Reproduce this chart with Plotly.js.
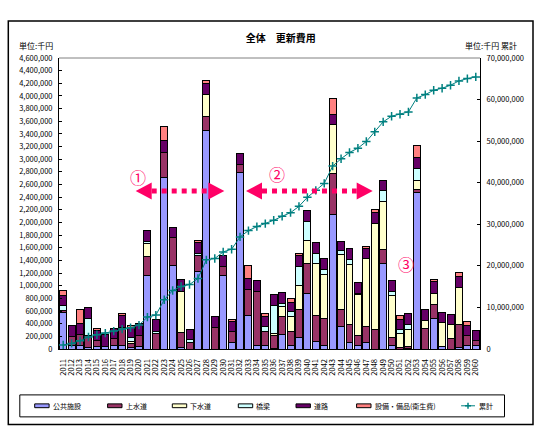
<!DOCTYPE html>
<html><head><meta charset="utf-8">
<script src="https://cdn.plot.ly/plotly-3.0.1.min.js"></script>
<style>html,body{margin:0;padding:0;background:#fff}#chart{width:543px;height:435px}</style>
</head><body><div id="chart"></div>
<script>
// ---- data (単位: 千円) ----
const years = ['2011','2012','2013','2014','2015','2016','2017','2018','2019','2020',
  '2021','2022','2023','2024','2025','2026','2027','2028','2029','2030',
  '2031','2032','2033','2034','2035','2036','2037','2038','2039','2040',
  '2041','2042','2043','2044','2045','2046','2047','2048','2049','2050',
  '2051','2052','2053','2054','2055','2056','2057','2058','2059','2060'];

const kokyoShisetsu = [584000,58000,63000,26000,32000,42000,58000,63000,21000,42000,
  1161000,0,2710000,1318000,16000,0,1229000,3450000,0,1166000,
  95000,2788000,531000,58000,53000,11000,237000,53000,189000,883000,
  121000,53000,2130000,358000,105000,53000,95000,0,1357000,58000,
  0,10000,2471000,0,484000,42000,0,16000,53000,53000];
const josuido = [32000,142000,174000,184000,105000,0,105000,284000,63000,174000,
  299000,252000,404000,441000,252000,105000,242000,231000,347000,142000,
  184000,126000,405000,857000,226000,210000,279000,216000,442000,473000,
  405000,437000,647000,273000,289000,168000,263000,305000,221000,116000,
  21000,32000,58000,326000,226000,0,163000,368000,158000,79000];
const gesuido = [0,0,0,0,0,0,0,0,32000,0,
  200000,0,0,0,641000,0,0,336000,0,0,
  0,0,0,0,0,32000,158000,237000,373000,357000,
  831000,694000,778000,857000,947000,636000,1078000,1672000,752000,678000,
  221000,262000,142000,126000,174000,384000,221000,589000,0,0];
const kyoryo = [74000,0,0,279000,0,0,0,0,63000,0,
  37000,26000,0,0,0,52000,42000,0,0,0,
  0,0,0,0,79000,431000,53000,79000,300000,300000,
  152000,79000,0,63000,68000,26000,0,0,174000,63000,
  74000,79000,184000,0,0,0,0,0,0,0];
const doro = [158000,179000,174000,174000,158000,184000,158000,179000,168000,184000,
  179000,184000,179000,163000,184000,158000,173000,173000,173000,168000,
  163000,173000,184000,174000,160000,184000,174000,158000,179000,174000,
  168000,174000,158000,147000,179000,168000,152000,179000,163000,174000,
  158000,179000,168000,179000,179000,158000,168000,179000,158000,158000];
const setsubiBihin = [84000,0,210000,0,37000,0,0,42000,21000,0,
  0,0,221000,0,0,0,32000,47000,0,0,
  32000,0,205000,0,47000,0,0,53000,32000,0,
  0,0,247000,0,0,0,32000,53000,0,0,
  63000,0,195000,0,32000,0,0,53000,63000,0];
const ruikei = [950000,1350000,1990000,2870000,3430000,3830000,4310000,4790000,5110000,5750000,
  7670000,8150000,11840000,14070000,15030000,15510000,16960000,21440000,21760000,23360000,
  24000000,26960000,28480000,29440000,30160000,30960000,31920000,32800000,34320000,36480000,
  38160000,39840000,44000000,45760000,47280000,48320000,49920000,52240000,54640000,56000000,
  56480000,57040000,60400000,61200000,62250000,62730000,63450000,64490000,65050000,65450000];

const seriesNames = ['公共施設','上水道','下水道','橋梁','道路','設備・備品(衛生費)'];
const seriesValues = [kokyoShisetsu, josuido, gesuido, kyoryo, doro, setsubiBihin];
const seriesColors = ['#9999FF','#993366','#FFFFCC','#CCFFFF','#660066','#FF8080'];
const lineName = '累計';
const lineColor = '#008080';

// ---- layout geometry (pixels) ----
const W = 543, H = 435;
const PL = 59, PR = 480, PT = 57.7, PB = 349.3;
const px2x = p => (p - PL) / (PR - PL);
const px2y = p => (PB - p) / (PB - PT);
const FONT = "'Noto Sans CJK JP', 'Noto Sans', sans-serif";
const PINK = '#FF0066';

const traces = seriesNames.map((name, i) => ({
  type: 'bar', name: name, x: years, y: seriesValues[i], showlegend: false,
  marker: {color: seriesColors[i], line: {color: '#000', width: 1}},
  hoverinfo: 'x+y+name'
}));
traces.push({
  type: 'scatter', mode: 'lines+markers', name: lineName, x: years, y: ruikei, yaxis: 'y2',
  showlegend: false,
  line: {color: lineColor, width: 1},
  marker: {symbol: 'cross-thin', size: 6, color: lineColor, line: {color: lineColor, width: 1.5}}
});

function rectP(x0, y0, x1, y1, extra) {
  return Object.assign({type: 'rect', xref: 'paper', yref: 'paper',
    x0: px2x(x0), x1: px2x(x1), y0: px2y(y1), y1: px2y(y0),
    line: {color: '#000', width: 1}, fillcolor: 'rgba(0,0,0,0)', layer: 'above'}, extra || {});
}
function lineP(x0, y0, x1, y1, color, width, dash) {
  return {type: 'line', xref: 'paper', yref: 'paper', x0: px2x(x0), x1: px2x(x1),
    y0: px2y(y0), y1: px2y(y1), line: {color: color, width: width, dash: dash || 'solid'}, layer: 'above'};
}
function arrowShapes(xl, xr, y) {
  const hl = 16, hh = 8.5;
  const P = (x, yy) => px2x(x) + ',' + px2y(yy);
  return [
    lineP(xl + hl, y, xr - hl, y, PINK, 5, 'dot'),
    {type: 'path', xref: 'paper', yref: 'paper', layer: 'above', fillcolor: PINK, line: {width: 0},
      path: 'M' + P(xl, y) + 'L' + P(xl + hl, y - hh) + 'L' + P(xl + hl, y + hh) + 'Z'},
    {type: 'path', xref: 'paper', yref: 'paper', layer: 'above', fillcolor: PINK, line: {width: 0},
      path: 'M' + P(xr, y) + 'L' + P(xr - hl, y - hh) + 'L' + P(xr - hl, y + hh) + 'Z'}
  ];
}

function ann(text, x, y, size, color, anchor) {
  return {text: text, xref: 'paper', yref: 'paper', x: px2x(x), y: px2y(y), showarrow: false,
    xanchor: anchor || 'center', yanchor: 'middle', font: {size: size, color: color || '#000', family: FONT}};
}

// ---- legend (drawn manually to match the boxed, single-row legend) ----
const legY = 406.2;
const legSwatchX = [34.7, 107.6, 172.3, 238.3, 296, 356.6];
const legTextX = [51.4, 124.3, 188.3, 254.3, 312.3, 373.3];
const legendShapes = [rectP(19.8, 395.3, 504.5, 417.3)];
const legendAnns = [];
seriesNames.forEach((n, i) => {
  legendShapes.push(rectP(legSwatchX[i], legY - 1.9, legSwatchX[i] + 14.4, legY + 1.9,
    {fillcolor: seriesColors[i], line: {color: '#000', width: 1}}));
  legendAnns.push(ann(n, legTextX[i], legY, 7, '#000', 'left'));
});
legendShapes.push(lineP(461.1, legY, 475, legY, lineColor, 1));
legendShapes.push(lineP(468, legY - 3, 468, legY + 3, lineColor, 1.5));
legendShapes.push(lineP(465, legY, 471, legY, lineColor, 1.5));
legendAnns.push(ann(lineName, 477.4, legY, 7, '#000', 'left'));

const shapes = [
  rectP(8.3, 20.7, 533, 425, {line: {color: '#000', width: 1.5}, layer: 'below'}),
  {type: 'line', xref: 'paper', yref: 'paper', x0: 0, x1: 1, y0: 1, y1: 1, line: {color: '#808080', width: 1}}
].concat(legendShapes, arrowShapes(135.7, 224.3, 191), arrowShapes(246, 372.7, 191));

const annotations = [
  ann('単位:千円', 17.3, 45.3, 8, '#000', 'left'),
  ann('単位:千円 累計', 463.3, 45.3, 8, '#000', 'left'),
  ann('①', 138.3, 177, 16, PINK),
  ann('②', 276.7, 174, 16, PINK),
  ann('③', 405.5, 264, 16, PINK)
].concat(legendAnns);

const layout = {
  width: W, height: H,
  margin: {l: PL, r: W - PR, t: PT, b: H - PB, pad: 0, autoexpand: false},
  paper_bgcolor: '#fff', plot_bgcolor: '#fff',
  font: {family: FONT, size: 7.5, color: '#000'},
  title: {text: '全体　更新費用', font: {size: 10, family: FONT, color: '#000', weight: 'bold'},
    x: 280.7 / W, xanchor: 'center', xref: 'container', y: 1 - 38.3 / H, yanchor: 'middle', yref: 'container'},
  barmode: 'stack', bargap: 0.17,
  showlegend: false,
  xaxis: {type: 'category', range: [-0.5, years.length - 0.5], autorange: false,
    tickmode: 'array', tickvals: years, ticktext: years, tickangle: -90,
    tickfont: {size: 7.5}, showline: true, linecolor: '#000', linewidth: 1, ticks: '',
    showgrid: false, zeroline: false, automargin: false, fixedrange: true, ticklabelstandoff: 6},
  yaxis: {range: [0, 4600000], dtick: 200000, tickformat: ',d', ticks: 'inside', ticklen: 3,
    tickcolor: '#000', showline: true, linecolor: '#000', linewidth: 1, showgrid: false,
    zeroline: false, automargin: false, ticklabelstandoff: 4},
  yaxis2: {range: [0, 70000000], dtick: 10000000, tickformat: ',d', overlaying: 'y', side: 'right',
    ticks: 'inside', ticklen: 3, tickcolor: '#000', showline: true, linecolor: '#000', linewidth: 1,
    showgrid: false, zeroline: false, automargin: false, ticklabelstandoff: 4},
  shapes: shapes,
  annotations: annotations
};

Plotly.newPlot('chart', traces, layout, {displayModeBar: false, staticPlot: true});
</script></body></html>
